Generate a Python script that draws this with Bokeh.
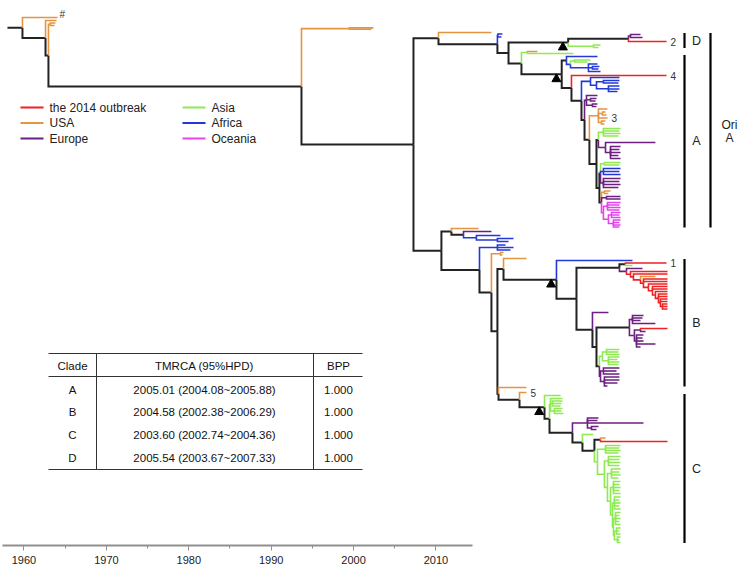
from bokeh.plotting import figure
from bokeh.models import Range1d, LinearAxis, FixedTicker, ColumnDataSource
from bokeh.embed import file_html
from bokeh.resources import INLINE
from bokeh.core.properties import value

# ---------------- data ----------------
# node tuples: (name, parent, year, colour code, tip row or None for internal nodes)
root_stem_start = 1959.58
root_nodes = [
    ("R", None, 1960.81, "k", None),
    ("T1", "R", 1963.68, "o", 17),
    ("N1", "R", 1962.70, "k", None),
    ("T2", "N1", 1963.60, "o", 20),
    ("N2", "N1", 1962.94, "k", None),
    ("N3", "N2", 1963.10, "o", None),
    ("T3", "N3", 1963.51, "o", 22.5),
    ("T4", "N3", 1963.45, "o", 25),
    ("N4", "N2", 1983.68, "k", None),
    ("O1", "N4", 1987.61, "o", None),
    ("T5", "O1", 1989.58, "o", 27.4),
    ("T6", "O1", 1989.41, "o", 28.8),
    ("N5", "N4", 1992.86, "k", None),
]
top_nodes = [
    ("NA0", "N5", 1994.91, "k", None),
    ("T7", "NA0", 1999.25, "o", 32),
    ("NA2", "NA0", 1999.74, "k", None),
    ("B1", "NA2", 1999.78, "b", None),
    ("T8", "B1", 2000.15, "b", 33.5),
    ("T9", "B1", 2000.07, "b", 36.5),
    ("NA3", "NA2", 2000.65, "k", None),
    ("ND", "NA3", 2005.54, "k", None),
    ("NA4", "NA3", 2001.71, "k", None),
    ("G1", "NA4", 2002.20, "g", None),
    ("T10", "G1", 2003.02, "o", 51),
    ("T11", "G1", 2005.97, "g", 53),
    ("NA", "NA4", 2005.01, "k", None),
]
clade_d_nodes = [
    ("D1", "ND", 2010.48, "k", None),
    ("DP", "D1", 2010.65, "p", None),
    ("T12", "DP", 2011.47, "p", 34),
    ("T13", "DP", 2011.63, "p", 37),
    ("T14", "D1", 2013.60, "r", 41),
    ("DG", "ND", 2007.61, "g", None),
    ("T15", "DG", 2008.19, "g", 44.5),
    ("T16", "DG", 2008.02, "g", 47),
]
clade_a_nodes = [
    ("A1", "NA", 2005.40, "k", None),
    ("T17", "A1", 2007.94, "b", 56),
    ("A1b", "A1", 2005.73, "b", None),
    ("AG", "A1b", 2006.06, "g", None),
    ("T18", "AG", 2007.37, "g", 59.5),
    ("T19", "AG", 2007.12, "g", 61.5),
    ("AB", "A1b", 2007.20, "b", None),
    ("T20", "AB", 2007.94, "b", 63.5),
    ("AB1", "AB", 2007.53, "b", None),
    ("T21", "AB1", 2008.10, "b", 66),
    ("T22", "AB1", 2008.02, "b", 68.5),
    ("T23", "AB", 2008.19, "b", 71),
    ("A2", "NA", 2005.81, "k", None),
    ("T24", "A2", 2013.60, "r", 75),
    ("A3", "A2", 2006.63, "k", None),
    ("AB2", "A3", 2007.37, "b", None),
    ("T25", "AB2", 2009.74, "b", 77),
    ("AB3", "AB2", 2007.86, "b", None),
    ("AB4", "AB3", 2008.43, "b", None),
    ("T26", "AB4", 2009.74, "b", 80),
    ("T27", "AB4", 2009.66, "b", 82.5),
    ("AB5", "AB3", 2008.84, "b", None),
    ("T28", "AB5", 2009.74, "b", 85.5),
    ("T29", "AB5", 2009.74, "b", 88.5),
    ("T30", "AB5", 2009.58, "b", 91),
    ("A4", "A3", 2006.88, "k", None),
    ("AP1", "A4", 2007.04, "p", None),
    ("T31", "AP1", 2007.94, "p", 95),
    ("AP2", "AP1", 2007.37, "p", None),
    ("T32", "AP2", 2007.86, "p", 98),
    ("T33", "AP2", 2007.78, "p", 100.5),
    ("AP3", "AP1", 2007.53, "p", None),
    ("T34", "AP3", 2007.94, "p", 103.5),
    ("T35", "AP3", 2007.86, "p", 106),
    ("A5", "A4", 2007.28, "k", None),
    ("AO", "A5", 2008.02, "o", None),
    ("T36", "AO", 2008.76, "o", 108.5),
    ("AO1", "AO", 2008.35, "o", None),
    ("T37", "AO1", 2008.60, "o", 111.5),
    ("T38", "AO1", 2008.68, "o", 114.5),
    ("T39", "AO", 2008.76, "o", 117.5),
    ("AO2", "AO", 2008.27, "o", None),
    ("T40", "AO2", 2008.60, "o", 120.5),
    ("T41", "AO2", 2008.51, "o", 123.5),
    ("A6", "A5", 2007.86, "k", None),
    ("A7", "A6", 2008.02, "k", None),
    ("A7g", "A7", 2008.43, "g", None),
    ("T42", "A7g", 2009.83, "g", 128),
    ("T43", "A7g", 2009.74, "g", 130.5),
    ("T44", "A7g", 2009.83, "g", 133),
    ("T45", "A7g", 2009.66, "g", 135.5),
    ("A7p", "A7", 2008.60, "p", None),
    ("T46", "A7p", 2012.69, "p", 142),
    ("A7p1", "A7p", 2009.01, "p", None),
    ("T47", "A7p1", 2009.83, "p", 146),
    ("T48", "A7p1", 2009.74, "p", 149),
    ("T49", "A7p1", 2009.83, "p", 152),
    ("T50", "A7p1", 2009.66, "p", 155),
    ("T51", "A7p1", 2009.83, "p", 158),
    ("A8", "A6", 2008.10, "k", None),
    ("A8a", "A8", 2008.19, "k", None),
    ("A8g", "A8a", 2008.51, "g", None),
    ("T52", "A8g", 2009.83, "g", 162),
    ("T53", "A8g", 2009.74, "g", 164.5),
    ("A8b", "A8a", 2008.43, "b", None),
    ("T54", "A8b", 2009.83, "b", 168),
    ("T55", "A8b", 2009.74, "b", 171),
    ("T56", "A8b", 2009.83, "b", 174),
    ("A8p", "A8a", 2008.43, "p", None),
    ("T57", "A8p", 2009.83, "p", 178),
    ("T58", "A8p", 2009.74, "p", 181),
    ("T59", "A8p", 2009.83, "p", 184),
    ("T60", "A8p", 2009.66, "p", 187),
    ("A8c", "A8", 2008.27, "k", None),
    ("A8o", "A8c", 2008.51, "o", None),
    ("T61", "A8o", 2009.01, "o", 190.5),
    ("T62", "A8o", 2008.84, "o", 193),
    ("A8q", "A8c", 2008.68, "p", None),
    ("T63", "A8q", 2009.83, "p", 196),
    ("T64", "A8q", 2009.83, "p", 198.5),
    ("M1", "A8c", 2008.43, "m", None),
    ("M2", "M1", 2008.76, "m", None),
    ("T65", "M2", 2009.83, "m", 202),
    ("T66", "M2", 2009.74, "m", 204.5),
    ("T67", "M2", 2009.83, "m", 207),
    ("T68", "M2", 2009.74, "m", 209.5),
    ("M3", "M1", 2008.84, "m", None),
    ("M4", "M3", 2009.09, "m", None),
    ("T69", "M4", 2009.83, "m", 212),
    ("T70", "M4", 2009.74, "m", 214.5),
    ("T71", "M4", 2009.83, "m", 217),
    ("M5", "M3", 2009.25, "m", None),
    ("T72", "M5", 2009.83, "m", 219.5),
    ("T73", "M5", 2009.74, "m", 222),
    ("T74", "M5", 2009.83, "m", 224.5),
    ("T75", "M5", 2009.74, "m", 226.5),
]
bc_nodes = [
    ("NB", "N5", 1995.15, "k", None),
    ("NB1", "NB", 1995.97, "k", None),
    ("U1", "NB1", 1998.19, "o", 228),
    ("NB1b", "NB1", 1996.96, "k", None),
    ("U2", "NB1b", 1999.25, "p", 231),
    ("NBb", "NB1b", 1998.02, "b", None),
    ("U3", "NBb", 1999.99, "b", 235),
    ("NBb2", "NBb", 1999.74, "b", None),
    ("U4", "NBb2", 2001.06, "b", 238),
    ("U5", "NBb2", 2000.65, "b", 241),
    ("NB2", "NB", 1998.27, "k", None),
    ("NBc", "NB2", 1999.74, "b", None),
    ("U6", "NBc", 2000.40, "b", 244.5),
    ("U7", "NBc", 2001.06, "b", 247),
    ("U8", "NBc", 2000.81, "b", 249.5),
    ("NB3", "NB2", 1999.25, "k", None),
    ("NBo", "NB3", 1999.99, "o", None),
    ("U9", "NBo", 2000.24, "o", 252),
    ("U10", "NBo", 2000.15, "o", 254.5),
    ("NB4", "NB3", 1999.74, "k", None),
    ("NB5", "NB4", 2000.24, "k", None),
    ("U11", "NB5", 2002.12, "o", 258),
    ("NBm", "NB5", 2004.58, "k", None),
    ("NC0", "NB4", 1999.83, "k", None),
    ("U12", "NC0", 2002.12, "o", 387),
    ("NC1", "NC0", 2001.55, "k", None),
    ("U13", "NC1", 2002.12, "o", 392),
    ("NCm", "NC1", 2003.60, "k", None),
]
clade_b_nodes = [
    ("bT1", "NBm", 2010.81, "b", 260),
    ("b1", "NBm", 2006.22, "k", None),
    ("b2", "b1", 2009.74, "k", None),
    ("b2a", "b2", 2010.24, "k", None),
    ("bT2", "b2a", 2013.60, "r", 262.5),
    ("bT3", "b2a", 2010.81, "g", 265),
    ("b2b", "b2", 2010.32, "p", None),
    ("bT4", "b2b", 2011.63, "p", 268),
    ("r1", "b2b", 2010.65, "r", None),
    ("bT5", "r1", 2013.68, "r", 271),
    ("r2", "r1", 2010.89, "r", None),
    ("bT6", "r2", 2013.68, "r", 273.5),
    ("r3", "r2", 2011.47, "r", None),
    ("bT7", "r3", 2012.69, "o", 276),
    ("r4", "r3", 2011.71, "r", None),
    ("bT8", "r4", 2013.68, "r", 278.5),
    ("bT9", "r4", 2013.68, "r", 281),
    ("r5", "r4", 2012.12, "r", None),
    ("bT10", "r5", 2013.68, "r", 283.5),
    ("r6", "r5", 2012.45, "r", None),
    ("bT11", "r6", 2013.68, "r", 286),
    ("bT12", "r6", 2013.68, "r", 288.5),
    ("r7", "r6", 2012.69, "r", None),
    ("bT13", "r7", 2013.68, "r", 291),
    ("r8", "r7", 2012.94, "r", None),
    ("bT14", "r8", 2013.68, "r", 293.5),
    ("bT15", "r8", 2013.68, "r", 296),
    ("r9", "r8", 2013.10, "r", None),
    ("bT16", "r9", 2013.68, "r", 298.5),
    ("bT17", "r9", 2013.68, "r", 301),
    ("r10", "r9", 2013.27, "r", None),
    ("bT18", "r10", 2013.68, "r", 303.5),
    ("bT19", "r10", 2013.68, "r", 306),
    ("bT20", "r10", 2013.68, "r", 308.5),
    ("b3", "b1", 2007.53, "k", None),
    ("bT21", "b3", 2008.84, "p", 312),
    ("b4", "b3", 2007.86, "k", None),
    ("b5", "b4", 2010.56, "k", None),
    ("bp1", "b5", 2010.81, "p", None),
    ("bT22", "bp1", 2011.71, "p", 315),
    ("bT23", "bp1", 2011.63, "p", 317.5),
    ("bT24", "bp1", 2011.47, "p", 320),
    ("bT25", "bp1", 2012.69, "p", 323),
    ("bp2", "b5", 2010.97, "p", None),
    ("bp3", "bp2", 2011.47, "p", None),
    ("bT26", "bp3", 2013.68, "r", 328),
    ("bT27", "bp3", 2011.88, "p", 331),
    ("bp4", "bp2", 2011.14, "p", None),
    ("bT28", "bp4", 2011.71, "p", 334.5),
    ("bT29", "bp4", 2011.63, "p", 337.5),
    ("bT30", "bp4", 2011.71, "p", 340.5),
    ("bT31", "bp4", 2012.69, "p", 343.5),
    ("bT32", "bp4", 2011.47, "p", 346.5),
    ("b6", "b4", 2008.10, "k", None),
    ("bg", "b6", 2008.35, "g", None),
    ("bg1", "bg", 2008.68, "g", None),
    ("bT33", "bg1", 2009.74, "g", 349),
    ("bT34", "bg1", 2009.66, "g", 351.5),
    ("bT35", "bg1", 2009.74, "g", 354),
    ("bg2", "bg", 2008.84, "g", None),
    ("bT36", "bg2", 2009.74, "g", 356.5),
    ("bT37", "bg2", 2009.58, "g", 359),
    ("bT38", "bg2", 2009.74, "g", 361.5),
    ("bT39", "bg2", 2009.66, "g", 364),
    ("bq", "b6", 2008.19, "p", None),
    ("bq1", "bq", 2008.43, "p", None),
    ("bT40", "bq1", 2009.74, "p", 367.5),
    ("bT41", "bq1", 2009.50, "p", 370.5),
    ("bT42", "bq1", 2009.74, "p", 373.5),
    ("bq2", "bq", 2008.51, "p", None),
    ("bT43", "bq2", 2009.74, "p", 376.5),
    ("bT44", "bq2", 2009.74, "p", 379.5),
    ("bT45", "bq2", 2009.58, "p", 382.5),
    ("bT46", "bq2", 2008.76, "p", 385.5),
]
clade_c_nodes = [
    ("cT1", "NCm", 2004.91, "g", 395),
    ("c1", "NCm", 2004.01, "k", None),
    ("cg1", "c1", 2004.09, "g", None),
    ("cT2", "cg1", 2005.07, "g", 398),
    ("cg2", "cg1", 2004.25, "g", None),
    ("cT3", "cg2", 2005.07, "g", 400.5),
    ("cT4", "cg2", 2004.99, "g", 403),
    ("cT5", "cg2", 2004.91, "g", 405.5),
    ("cg3", "cg1", 2004.41, "g", None),
    ("cT6", "cg3", 2005.07, "g", 408),
    ("cT7", "cg3", 2004.99, "g", 410.5),
    ("cT8", "cg3", 2005.15, "g", 413),
    ("c2", "c1", 2005.89, "k", None),
    ("cp1", "c2", 2007.12, "p", None),
    ("cT9", "cp1", 2008.02, "p", 417.5),
    ("cT10", "cp1", 2007.94, "p", 420),
    ("cT11", "cp1", 2011.71, "p", 422.5),
    ("cp2", "cp1", 2007.45, "p", None),
    ("cT12", "cp2", 2008.02, "p", 426),
    ("cT13", "cp2", 2007.86, "p", 429),
    ("c3", "c2", 2006.71, "k", None),
    ("cT14", "c3", 2007.61, "g", 434),
    ("c4", "c3", 2007.69, "k", None),
    ("c5", "c4", 2008.19, "k", None),
    ("cT15", "c5", 2008.60, "o", 437.5),
    ("cT16", "c5", 2013.68, "r", 441),
    ("cg", "c4", 2007.94, "g", None),
    ("cga", "cg", 2008.60, "g", None),
    ("cT17", "cga", 2009.83, "g", 445),
    ("cT18", "cga", 2009.74, "g", 447.5),
    ("cT19", "cga", 2009.83, "g", 450),
    ("cT20", "cga", 2009.66, "g", 452.5),
    ("cgb", "cg", 2008.51, "g", None),
    ("cgc", "cgb", 2008.84, "g", None),
    ("cT21", "cgc", 2009.83, "g", 456),
    ("cT22", "cgc", 2009.74, "g", 459),
    ("cT23", "cgc", 2009.83, "g", 462),
    ("cT24", "cgc", 2009.74, "g", 465),
    ("cgd", "cgb", 2008.76, "g", None),
    ("cge", "cgd", 2009.09, "g", None),
    ("cT25", "cge", 2009.83, "g", 468.5),
    ("cT26", "cge", 2009.74, "g", 471.5),
    ("cT27", "cge", 2009.83, "g", 474.5),
    ("cT28", "cge", 2009.66, "g", 477.5),
    ("cgf", "cgd", 2009.01, "g", None),
    ("cgg", "cgf", 2009.25, "g", None),
    ("cT29", "cgg", 2009.83, "g", 481),
    ("cT30", "cgg", 2009.74, "g", 484),
    ("cT31", "cgg", 2009.83, "g", 487),
    ("cT32", "cgg", 2009.74, "g", 490),
    ("cT33", "cgg", 2009.83, "g", 493),
    ("cgh", "cgf", 2009.17, "g", None),
    ("cgi", "cgh", 2009.33, "g", None),
    ("cT34", "cgi", 2009.83, "g", 496.5),
    ("cT35", "cgi", 2009.74, "g", 499.5),
    ("cT36", "cgi", 2009.83, "g", 502.5),
    ("cT37", "cgi", 2009.74, "g", 505.5),
    ("cT38", "cgi", 2009.83, "g", 508.5),
    ("cgj", "cgh", 2009.25, "g", None),
    ("cgk", "cgj", 2009.42, "g", None),
    ("cT39", "cgk", 2009.83, "g", 512),
    ("cT40", "cgk", 2009.74, "g", 515),
    ("cT41", "cgk", 2009.83, "g", 518),
    ("cT42", "cgk", 2009.74, "g", 521),
    ("cT43", "cgk", 2009.83, "g", 524),
    ("cgl", "cgj", 2009.33, "g", None),
    ("cgm", "cgl", 2009.50, "g", None),
    ("cT44", "cgm", 2009.83, "g", 527.5),
    ("cT45", "cgm", 2009.74, "g", 530.5),
    ("cT46", "cgm", 2009.83, "g", 533.5),
    ("cgn", "cgl", 2009.58, "g", None),
    ("cT47", "cgn", 2009.83, "g", 536.5),
    ("cT48", "cgn", 2009.74, "g", 539.5),
    ("cT49", "cgn", 2009.83, "g", 542),
]

tip_label_names = ["T1", "T14", "T24", "T39", "bT2", "U13"]
tip_label_texts = ["#", "2", "4", "3", "1", "5"]

clade_names = ["A", "B", "C", "D"]
clade_mrca = ["NA", "NBm", "NCm", "ND"]
tmrca = [2005.01, 2004.58, 2003.60, 2005.54]
hpd_low = [2004.08, 2002.38, 2002.74, 2003.67]
hpd_high = [2005.88, 2006.29, 2004.36, 2007.33]
bpp = [1.0, 1.0, 1.0, 1.0]
table_header = ["Clade", "TMRCA (95%HPD)", "BPP"]

bracket_order = ["D", "A", "B", "C"]
ori_members = ["D", "A"]
ori_label = "Ori\nA"

legend_labels = ["the 2014 outbreak", "USA", "Europe", "Asia", "Africa", "Oceania"]
legend_codes = ["r", "o", "p", "g", "b", "m"]

axis_ticks = [1960, 1970, 1980, 1990, 2000, 2010]
axis_minor = [1965, 1975, 1985, 1995, 2005]

COLORS = {"k": "#222222", "r": "#ee2222", "o": "#e59442", "p": "#6c2080",
          "g": "#8eea52", "b": "#2338d8", "m": "#e444ee"}
FONT = "Liberation Sans"

# ---------------- tree layout ----------------
all_nodes = (root_nodes + top_nodes + clade_d_nodes + clade_a_nodes
             + bc_nodes + clade_b_nodes + clade_c_nodes)
year, parent, ccode, row, children = {}, {}, {}, {}, {}
order = []
for name, par, yr, col, r in all_nodes:
    year[name] = yr
    parent[name] = par
    ccode[name] = col
    row[name] = r
    children.setdefault(name, [])
    order.append(name)
    if par is not None:
        children.setdefault(par, []).append(name)

ypos = {}
def node_y(n):
    if n in ypos:
        return ypos[n]
    if row[n] is not None:
        ypos[n] = row[n]
    else:
        ys = [node_y(c) for c in children[n]]
        ypos[n] = (min(ys) + max(ys)) / 2.0
    return ypos[n]

for n in order:
    node_y(n)

def tips_under(n):
    if not children[n]:
        return [n]
    out = []
    for c in children[n]:
        out += tips_under(c)
    return out

# ---------------- figure ----------------
W, H = 743, 578
x0_year, x1_year = 1959.01, 2019.91          # tree time scale across the frame
px_per_year = W / (x1_year - x0_year)
p = figure(width=W, height=H, output_backend="svg", toolbar_location=None,
           x_range=Range1d(x0_year, x1_year), y_range=Range1d(545, 0),
           x_axis_location=None, y_axis_location=None,
           min_border_left=0, min_border_right=0, min_border_top=0, min_border_bottom=33)
p.outline_line_color = None
p.xgrid.visible = False
p.ygrid.visible = False
p.background_fill_color = "white"
p.extra_x_ranges = {"axis": Range1d(1957.15, 2047.32), "px": Range1d(0, W)}

# branches: black first, coloured on top
xs, ys, cols, widths = [], [], [], []
root = order[0]
for pass_black in (True, False):
    if pass_black:
        xs.append([root_stem_start, year[root]])
        ys.append([ypos[root], ypos[root]])
        cols.append(COLORS["k"]); widths.append(2.0)
    for n in order:
        par = parent[n]
        if par is None or (ccode[n] == "k") != pass_black:
            continue
        xs.append([year[par], year[par], year[n]])
        ys.append([ypos[par], ypos[n], ypos[n]])
        cols.append(COLORS[ccode[n]])
        widths.append(2.0 if ccode[n] == "k" else 1.6)
src = ColumnDataSource(dict(xs=xs, ys=ys, color=cols, width=widths))
p.multi_line(xs="xs", ys="ys", line_color="color", line_width="width", source=src,
             line_join="miter")

# MRCA triangles (drawn just left-below the node)
tri_x = [year[m] - 5.3 / px_per_year for m in clade_mrca]
tri_y = [ypos[m] + 4.8 for m in clade_mrca]
p.scatter(tri_x, tri_y, marker="triangle", size=9, fill_color="black", line_color="black")

# tip labels
lx = [year[t] + 4.0 / px_per_year for t in tip_label_names]
ly = [ypos[t] for t in tip_label_names]
lx[0] = lx[0] - 2.0 / px_per_year
ly[0] = ly[0] - 3
p.text(lx, ly, text=tip_label_texts, text_font=value(FONT), text_font_size=value("10px"),
       text_baseline="middle", text_align="left", text_color="#333333")

# clade brackets
ext = {}
for cname, m in zip(clade_names, clade_mrca):
    tys = [ypos[t] for t in tips_under(m)]
    ext[cname] = (min(tys) - 1.5, max(tys) + 0.5)
bx = 684
for cname in bracket_order:
    a, b = ext[cname]
    p.segment(x0=[bx], y0=[a], x1=[bx], y1=[b], line_color="black", line_width=2.2, x_range_name="px")
    p.text([696], [(a + b) / 2], text=[cname], text_font=value(FONT), text_font_size=value("12.5px"),
           text_align="center", text_baseline="middle", text_color="#222222", x_range_name="px")
oa = min(ext[c][0] for c in ori_members)
ob = max(ext[c][1] for c in ori_members)
p.segment(x0=[710], y0=[oa], x1=[710], y1=[ob], line_color="black", line_width=2.2, x_range_name="px")
om = (oa + ob) / 2
for i, part in enumerate(ori_label.split("\n")):
    p.text([729], [om - 5 + 13 * i], text=[part], text_font=value(FONT), text_font_size=value("12px"),
           text_align="center", text_baseline="middle", text_color="#222222", x_range_name="px")

# legend
for i, (lab, code) in enumerate(zip(legend_labels, legend_codes)):
    col_i, row_i = divmod(i, 3)
    lx0 = 20 + 162 * col_i
    lyy = 107 + 15.5 * row_i
    p.segment(x0=[lx0], y0=[lyy], x1=[lx0 + 23], y1=[lyy], line_color=COLORS[code], line_width=2,
              x_range_name="px")
    p.text([lx0 + 29], [lyy], text=[lab], text_font=value(FONT), text_font_size=value("12px"),
           text_baseline="middle", text_align="left", text_color="#222222", x_range_name="px")

# table
t_left, t_right, t_c1, t_c2 = 48, 362, 96, 313
t_top, t_head, t_bot = 353, 376, 469
p.segment(x0=[t_left] * 3, y0=[t_top, t_head, t_bot], x1=[t_right] * 3, y1=[t_top, t_head, t_bot],
          line_color="#333333", line_width=1, x_range_name="px")
p.segment(x0=[t_c1, t_c2], y0=[t_top, t_top], x1=[t_c1, t_c2], y1=[t_bot, t_bot],
          line_color="#333333", line_width=1, x_range_name="px")
col_centers = [72, 204, 338]
p.text(col_centers, [365] * 3, text=table_header, text_font=value(FONT), text_font_size=value("11.5px"),
       text_align="center", text_baseline="middle", text_color="#111111", x_range_name="px")
for i, cname in enumerate(clade_names):
    yy = 389 + 22.7 * i
    cells = [cname, f"{tmrca[i]:.2f} ({hpd_low[i]:.2f}~{hpd_high[i]:.2f})", f"{bpp[i]:.3f}"]
    p.text(col_centers, [yy] * 3, text=cells, text_font=value(FONT), text_font_size=value("11.5px"),
           text_align="center", text_baseline="middle", text_color="#111111", x_range_name="px")

# time axis
ax = LinearAxis(x_range_name="axis", ticker=FixedTicker(ticks=axis_ticks, minor_ticks=axis_minor),
                bounds=(1957.4, 2014.4))
ax.axis_line_color = "#909090"
ax.axis_line_width = 2
ax.major_tick_line_color = "#909090"
ax.minor_tick_line_color = "#909090"
ax.major_tick_in = 0
ax.major_tick_out = 5
ax.minor_tick_in = 0
ax.minor_tick_out = 3
ax.major_label_standoff = 5
ax.major_label_text_font = FONT
ax.major_label_text_font_size = "11px"
ax.major_label_text_color = "#222222"
p.add_layout(ax, "below")

open("out.html", "w").write(file_html(p, INLINE))
